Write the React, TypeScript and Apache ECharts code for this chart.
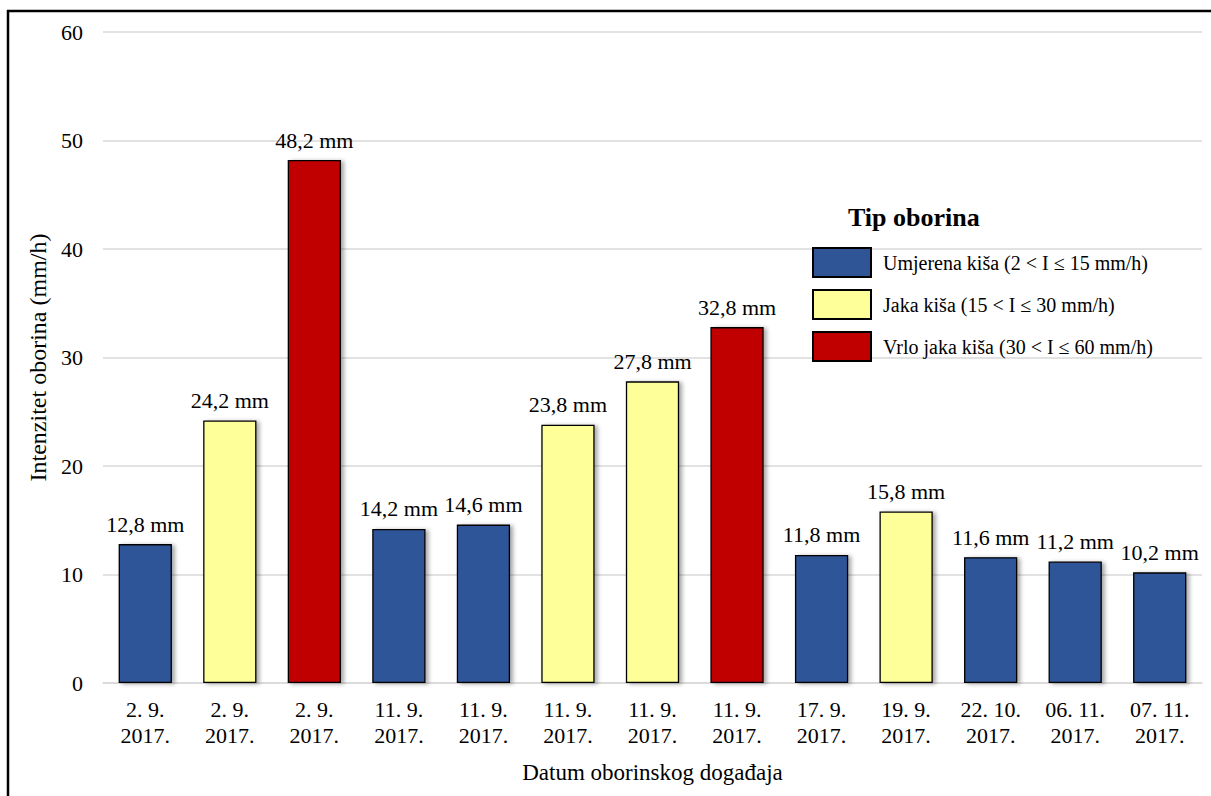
import React, { useEffect, useRef } from "react";
import * as echarts from "echarts";

const categories = [
  "2. 9.\n2017.", "2. 9.\n2017.", "2. 9.\n2017.", "11. 9.\n2017.", "11. 9.\n2017.",
  "11. 9.\n2017.", "11. 9.\n2017.", "11. 9.\n2017.", "17. 9.\n2017.", "19. 9.\n2017.",
  "22. 10.\n2017.", "06. 11.\n2017.", "07. 11.\n2017.",
];
const values = [12.8, 24.2, 48.2, 14.2, 14.6, 23.8, 27.8, 32.8, 11.8, 15.8, 11.6, 11.2, 10.2];
// 0 = umjerena, 1 = jaka, 2 = vrlo jaka
const types = [0, 1, 2, 0, 0, 1, 1, 2, 0, 1, 0, 0, 0];
const typeNames = [
  "Umjerena kiša (2 < I ≤ 15 mm/h)",
  "Jaka kiša (15 < I ≤ 30 mm/h)",
  "Vrlo jaka kiša (30 < I ≤ 60 mm/h)",
];
const typeColors = ["#2F5597", "#FFFF99", "#C00000"];
const yTicks = { min: 0, max: 60, interval: 10 };

const FONT = "'Liberation Serif', 'Times New Roman', serif";

export default function App() {
  const ref = useRef<HTMLDivElement>(null);
  useEffect(() => {
    document.body.style.margin = "0";
    const chart = echarts.init(ref.current!, null, { renderer: "svg" });
    const series = typeNames.map((name, t) => ({
      name,
      type: "bar",
      stack: "all",
      barWidth: "63%",
      data: values.map((v, i) => (types[i] === t ? v : null)),
      itemStyle: {
        color: typeColors[t],
        borderColor: "#000",
        borderWidth: 1.3,
        shadowColor: "rgba(0,0,0,0.35)",
        shadowBlur: 4,
        shadowOffsetX: 3,
        shadowOffsetY: 1,
      },
      label: {
        show: true,
        position: "top",
        distance: 9,
        color: "#000",
        fontFamily: FONT,
        fontSize: 22,
        formatter: (p: any) =>
          p.value == null ? "" : String(p.value).replace(".", ",") + " mm",
      },
    }));
    chart.setOption({
      animation: false,
      textStyle: { fontFamily: FONT },
      grid: { left: 103, right: 9, top: 32, bottom: 113, containLabel: false },
      title: {
        text: "Tip oborina",
        left: 848,
        top: 204,
        padding: 0,
        textStyle: { fontFamily: FONT, fontSize: 26, fontWeight: "bold", color: "#000" },
      },
      legend: {
        orient: "vertical",
        left: 812,
        top: 247,
        padding: 0,
        itemWidth: 58,
        itemHeight: 29,
        itemGap: 11,
        icon: "rect",
        textStyle: { fontFamily: FONT, fontSize: 20, color: "#000", padding: [0, 0, 0, 7] },
        data: typeNames,
      },
      xAxis: {
        type: "category",
        data: categories,
        name: "Datum oborinskog događaja",
        nameLocation: "middle",
        nameGap: 78,
        nameTextStyle: { fontFamily: FONT, fontSize: 23, color: "#000" },
        axisLine: { lineStyle: { color: "#d9d9d9", width: 1.5 } },
        axisTick: { show: false },
        axisLabel: {
          fontFamily: FONT,
          fontSize: 22,
          color: "#000",
          lineHeight: 26,
          margin: 13,
          interval: 0,
        },
      },
      yAxis: {
        type: "value",
        min: yTicks.min,
        max: yTicks.max,
        interval: yTicks.interval,
        name: "Intenzitet oborina (mm/h)",
        nameLocation: "middle",
        nameGap: 49,
        nameTextStyle: { fontFamily: FONT, fontSize: 24, color: "#000" },
        axisLine: { show: false },
        axisTick: { show: false },
        axisLabel: { fontFamily: FONT, fontSize: 22, color: "#000", margin: 20 },
        splitLine: { lineStyle: { color: "#d9d9d9", width: 1.5 } },
      },
      graphic: [
        { type: "line", shape: { x1: 7, y1: 11, x2: 1211, y2: 11 }, style: { stroke: "#000", lineWidth: 2.5 } },
        { type: "line", shape: { x1: 8, y1: 10, x2: 8, y2: 796 }, style: { stroke: "#000", lineWidth: 2.5 } },
      ],
      series,
    });
    return () => chart.dispose();
  }, []);
  return <div ref={ref} style={{ width: 1211, height: 796 }} />;
}
